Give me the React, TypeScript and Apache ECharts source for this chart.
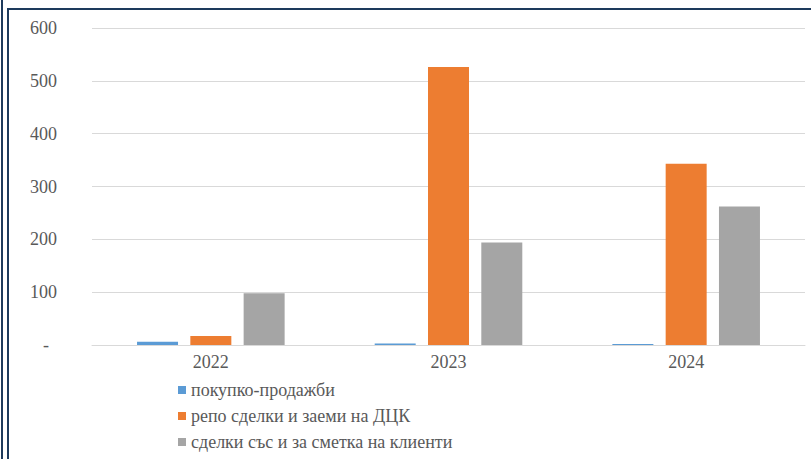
import React, { useEffect, useRef } from "react";
import * as echarts from "echarts";

const categories = ["2022", "2023", "2024"];
const seriesNames = [
  "покупко-продажби",
  "репо сделки и заеми на ДЦК",
  "сделки със и за сметка на клиенти",
];
const buySell = [6, 3, 2];
const repo = [17, 526, 343];
const clients = [98, 194, 262];
const colors = ["#5b9bd5", "#ed7d31", "#a5a5a5"];

export default function App() {
  const ref = useRef<HTMLDivElement>(null);
  useEffect(() => {
    const chart = echarts.init(ref.current!, null, { renderer: "svg" });
    const font = "Liberation Serif, Times New Roman, serif";
    const data = [buySell, repo, clients];
    const navy = "#1d3a5c";
    chart.setOption({
      animation: false,
      backgroundColor: "#ffffff",
      textStyle: { fontFamily: font },
      grid: { left: 92, right: 6, top: 28, bottom: 114, containLabel: false },
      xAxis: {
        type: "category",
        data: categories,
        axisTick: { show: false },
        axisLine: { lineStyle: { color: "#d9d9d9", width: 1 } },
        axisLabel: { color: "#595959", fontSize: 18, fontFamily: font, margin: 8 },
      },
      yAxis: {
        type: "value",
        min: 0,
        max: 600,
        interval: 100,
        axisLine: { show: false },
        axisTick: { show: false },
        splitLine: { lineStyle: { color: "#d9d9d9", width: 1 } },
        axisLabel: {
          color: "#595959",
          fontSize: 18,
          fontFamily: font,
          margin: 35,
          formatter: (v: number) => (v === 0 ? "{d|-}" : String(v)),
          rich: {
            d: { color: "#595959", fontSize: 18, fontFamily: font, padding: [0, 8, 0, 0] },
          },
        },
      },
      legend: {
        orient: "vertical",
        left: 178,
        top: 381,
        padding: 0,
        itemWidth: 8,
        itemHeight: 8,
        itemGap: 8,
        icon: "rect",
        textStyle: { color: "#595959", fontSize: 18, fontFamily: font, lineHeight: 18 },
        data: seriesNames,
      },
      series: seriesNames.map((name, i) => ({
        name,
        type: "bar",
        data: data[i],
        barWidth: 41,
        barGap: "30%",
        barCategoryGap: "38%",
        itemStyle: { color: colors[i] },
      })),
      graphic: [
        { type: "rect", shape: { x: 1, y: 0, width: 2, height: 459 }, style: { fill: navy } },
        { type: "rect", shape: { x: 7, y: 8, width: 2, height: 451 }, style: { fill: navy } },
        { type: "rect", shape: { x: 7, y: 8, width: 804, height: 2 }, style: { fill: navy } },
      ],
    });
    return () => chart.dispose();
  }, []);
  return (
    <div
      ref={ref}
      style={{ position: "absolute", left: 0, top: 0, width: 811, height: 459 }}
    />
  );
}
